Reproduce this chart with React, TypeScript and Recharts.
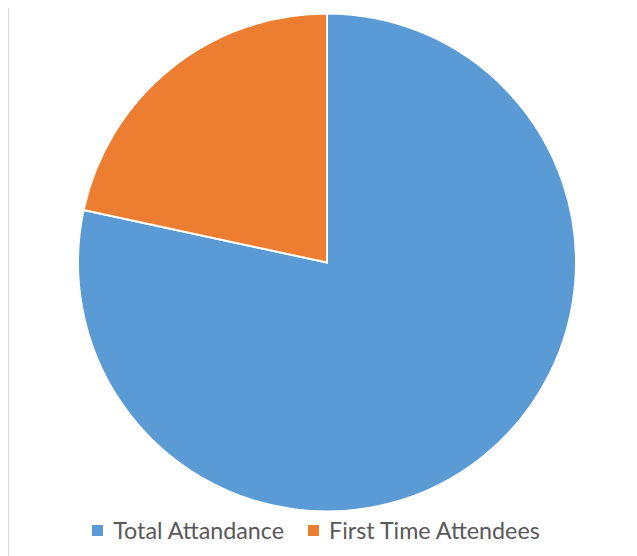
import React from "react"
import { PieChart, Pie, Cell, Legend } from "recharts"

const categories = ["Total Attandance", "First Time Attendees"]
const attendance = [29, 8]
const colors = ["#5b9bd5", "#ed7d31"]

const data = categories.map((name, i) => ({ name, value: attendance[i] }))

const renderLegend = () => (
  <div style={{ display: "flex", justifyContent: "center", alignItems: "center" }}>
    {categories.map((name, i) => (
      <div
        key={name}
        style={{ display: "flex", alignItems: "center", marginRight: i === 0 ? 24 : 0 }}
      >
        <span
          style={{
            display: "inline-block",
            width: 11,
            height: 11,
            background: colors[i],
            marginRight: 10,
          }}
        />
        <span style={{ color: "#595959", fontSize: 23.3, fontFamily: "Lato, sans-serif" }}>
          {name}
        </span>
      </div>
    ))}
  </div>
)

export default function App() {
  return (
    <div
      style={{
        width: 629,
        height: 548,
        borderLeft: "1px solid #d9d9d9",
        boxSizing: "border-box",
        position: "relative",
      }}
    >
      <PieChart width={628} height={548} margin={{ top: 0, right: 0, bottom: 0, left: 0 }}>
        <Pie
          data={data}
          dataKey="value"
          nameKey="name"
          cx={318}
          cy={254.5}
          outerRadius={249}
          startAngle={90}
          endAngle={-270}
          stroke="#ffffff"
          strokeWidth={2}
          isAnimationActive={false}
        >
          {data.map((d, i) => (
            <Cell key={d.name} fill={colors[i]} />
          ))}
        </Pie>
        <Legend
          content={renderLegend}
          wrapperStyle={{ position: "absolute", top: 508, left: -7, width: 628 }}
        />
      </PieChart>
    </div>
  )
}
